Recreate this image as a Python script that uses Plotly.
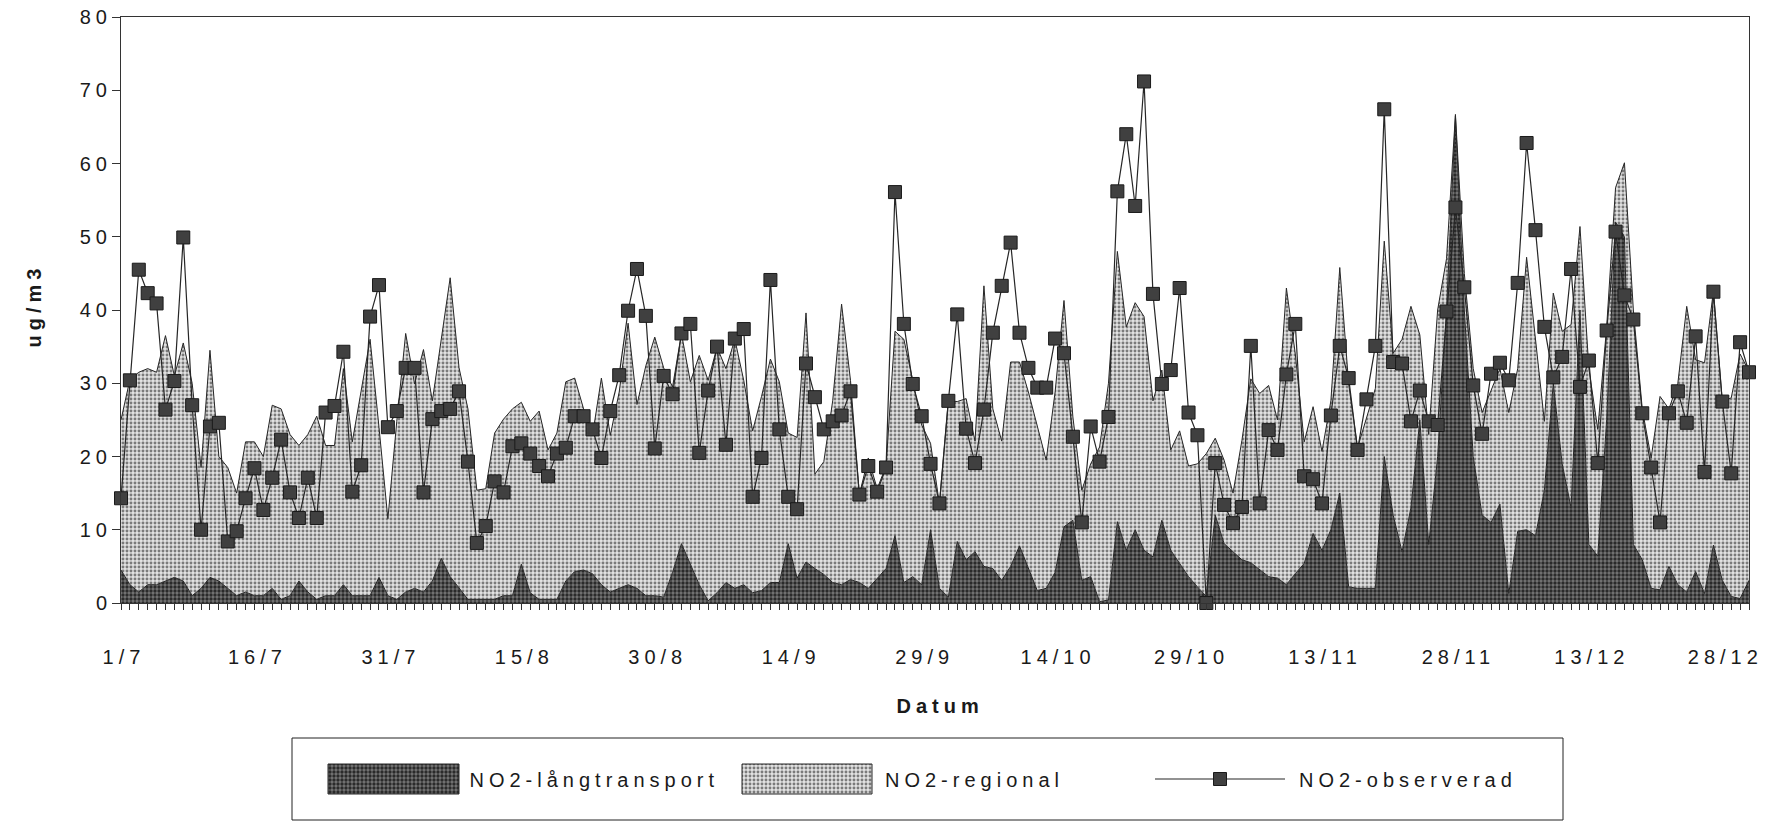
import plotly.graph_objects as go

W, H = 1776, 822

# Dagar från 1/7 (dag 0) till 31/12 (dag 183)
dagar = list(range(184))
tick_dagar = [0, 15, 30, 45, 60, 75, 90, 105, 120, 135, 150, 165, 180]
tick_text = ["1/7", "16/7", "31/7", "15/8", "30/8", "14/9", "29/9",
             "14/10", "29/10", "13/11", "28/11", "13/12", "28/12"]

# NO2-långtransport (ug/m3)
langtransport = [
    4.5, 2.5, 1.5, 2.5, 2.5, 3, 3.5, 3, 1, 2,
    3.5, 3, 2, 1, 1.5, 1, 1, 2, 0.5, 1,
    3, 1.5, 0.5, 1, 1, 2.5, 1, 1, 1, 3.5,
    1, 0.5, 1.5, 2, 1.5, 3, 6.1, 3.6, 2, 0.5,
    0.5, 0.5, 0.5, 1, 1, 5.3, 1.4, 0.5, 0.5, 0.5,
    3, 4.3, 4.5, 4, 2.5, 1.5, 2, 2.5, 2, 1,
    1, 0.8, 4.2, 8.1, 5.3, 2.5, 0.3, 1.4, 2.8, 2,
    2.5, 1.4, 1.7, 2.8, 2.8, 8.1, 3.4, 5.6, 4.7, 3.9,
    2.8, 2.5, 3.2, 2.8, 2, 3.4, 4.7, 9.2, 2.8, 3.6,
    2.5, 10, 2, 0.8, 8.4, 5.9, 7, 5, 4.7, 3.1,
    5, 7.8, 4.7, 1.7, 2, 4.2, 10.4, 11.3, 3.1, 3.6,
    0.2, 0.4, 11.1, 7.2, 10, 7.2, 6.3, 11.3, 7.2, 5.4,
    3.6, 2.2, 0.9, 12, 8.1, 7, 5.9, 5.5, 4.5, 3.6,
    3.4, 2.5, 4, 5.4, 9.5, 7.2, 10, 15, 2.2, 2,
    2, 2, 20, 12, 7, 13, 25, 8, 20, 40,
    66.5, 40, 20, 12, 11, 13.5, 1.3, 9.8, 10, 9.2,
    15.4, 30, 19, 13, 40, 8, 6.4, 25, 52, 50,
    8, 5.9, 2, 1.8, 5, 2.5, 1.5, 4.3, 1.3, 7.9,
    3.1, 0.9, 0.6, 3.1,
]

# NO2-regional (ug/m3), staplad ovanpå långtransporten
regional = [
    20.5, 28, 30, 29.5, 29, 33.5, 27.5, 32.5, 29, 16.5,
    31, 17, 16.5, 14, 20.5, 21, 19, 25, 26, 22,
    18.5, 21.5, 25, 20.5, 20.5, 29.5, 21, 28, 35, 20.5,
    10.5, 24.3, 35.3, 27.9, 33.1, 24.6, 29.9, 40.8, 30.1, 26,
    14.9, 15.1, 22.7, 24.1, 25.5, 22.1, 23.4, 25.7, 20.4, 22.7,
    27.2, 26.4, 22, 18.9, 28.2, 21.4, 26.8, 35.7, 25.1, 31.4,
    35.3, 31.3, 25.3, 28.7, 24.9, 31.3, 30.1, 33.5, 29.2, 34,
    27.9, 22.1, 26.5, 30.5, 27.4, 15.1, 19.2, 34, 12.9, 15.4,
    24.8, 38.3, 27.2, 12, 17.8, 12.2, 14, 27.9, 33.2, 26.8,
    21.8, 11.8, 11.5, 26.8, 19.1, 22, 15.1, 38.3, 21.8, 19,
    27.9, 25.1, 24.1, 22.6, 17.5, 24.6, 30.9, 14.1, 12.3, 15.4,
    21.1, 29.6, 36.9, 30.5, 31, 31.9, 21.3, 20.5, 13.7, 18.1,
    15.1, 16.8, 19.5, 10.5, 11.4, 8, 16.3, 25.1, 24.1, 26.1,
    21.6, 40.5, 30, 16.6, 17.3, 13.5, 17.6, 30.8, 27.7, 19.2,
    23.4, 27.3, 29.4, 22.1, 29, 27.5, 11.6, 15, 20, 7,
    0.2, 5, 12, 14, 18, 18.5, 24.7, 22.2, 37.2, 26.8,
    9.4, 12.3, 18.1, 25, 11.4, 24, 17.3, 12.7, 4.7, 10.1,
    32, 20.6, 17.8, 26.4, 21.5, 27.5, 39, 28.9, 31.5, 34.7,
    24.4, 27.1, 33.4, 28.5,
]

# NO2-observerad (ug/m3)
observerad = [
    14.3, 30.4, 45.5, 42.3, 40.9, 26.4, 30.3, 49.9, 27.0, 10.0,
    24.1, 24.6, 8.4, 9.8, 14.3, 18.4, 12.7, 17.1, 22.3, 15.1,
    11.6, 17.1, 11.6, 26.0, 26.9, 34.3, 15.2, 18.8, 39.1, 43.4,
    24.0, 26.2, 32.1, 32.1, 15.1, 25.1, 26.2, 26.5, 28.9, 19.3,
    8.2, 10.5, 16.6, 15.1, 21.4, 21.8, 20.4, 18.7, 17.3, 20.4,
    21.2, 25.5, 25.5, 23.7, 19.8, 26.2, 31.1, 39.9, 45.6, 39.2,
    21.1, 31.0, 28.5, 36.8, 38.1, 20.5, 29.0, 35.0, 21.6, 36.1,
    37.4, 14.5, 19.8, 44.1, 23.7, 14.5, 12.8, 32.7, 28.1, 23.7,
    24.8, 25.6, 28.9, 14.8, 18.7, 15.2, 18.5, 56.1, 38.1, 29.9,
    25.5, 19.0, 13.6, 27.6, 39.4, 23.8, 19.1, 26.4, 36.9, 43.3,
    49.2, 36.9, 32.1, 29.4, 29.4, 36.1, 34.1, 22.7, 11.0, 24.1,
    19.3, 25.4, 56.2, 64.0, 54.2, 71.2, 42.2, 29.9, 31.8, 43.0,
    26.0, 22.9, 0.0, 19.1, 13.4, 10.9, 13.1, 35.1, 13.6, 23.6,
    20.9, 31.2, 38.1, 17.3, 16.9, 13.6, 25.6, 35.1, 30.7, 20.9,
    27.8, 35.1, 67.4, 32.9, 32.7, 24.8, 29.0, 24.8, 24.3, 39.8,
    54.0, 43.1, 29.7, 23.1, 31.3, 32.8, 30.4, 43.7, 62.8, 50.9,
    37.7, 30.8, 33.6, 45.6, 29.5, 33.1, 19.1, 37.2, 50.7, 42.0,
    38.7, 25.9, 18.5, 11.0, 25.9, 28.9, 24.6, 36.4, 17.9, 42.5,
    27.5, 17.7, 35.6, 31.5,
]

FONT = "Liberation Sans, Arial, Helvetica, sans-serif"
TXT = "#1a1a1a"
EDGE = "#262626"
SPACING = 5  # extra teckenavstånd (px) i all text

dark_pattern = dict(shape=".", bgcolor="#767676", fgcolor="#2a2a2a",
                    size=4, solidity=0.55, fillmode="replace")
light_pattern = dict(shape=".", bgcolor="#e2e2e2", fgcolor="#7a7a7a",
                     size=4, solidity=0.42, fillmode="replace")
obs_marker = dict(symbol="square", size=13, color="#404040",
                  line=dict(color="#1a1a1a", width=1))

fig = go.Figure()

fig.add_trace(go.Scatter(
    x=dagar, y=langtransport, name="NO2-långtransport",
    mode="lines", stackgroup="no2",
    line=dict(color=EDGE, width=1),
    fillpattern=dark_pattern, showlegend=False,
))
fig.add_trace(go.Scatter(
    x=dagar, y=regional, name="NO2-regional",
    mode="lines", stackgroup="no2",
    line=dict(color=EDGE, width=1),
    fillpattern=light_pattern, showlegend=False,
))
fig.add_trace(go.Scatter(
    x=dagar, y=observerad, name="NO2-observerad",
    mode="lines+markers", cliponaxis=False,
    line=dict(color="#262626", width=1.2),
    marker=obs_marker, showlegend=False,
))

# Förklaringsruta ritad i en egen, dold axel under diagrammet
LX0, LX1, LY0, LY1 = 292, 1563, 738, 820
legend_axes = dict(xaxis="x2", yaxis="y2", showlegend=False, hoverinfo="skip")
sy0, sy1, sym = 764, 794, 779
for xa, xb, pat in [(328, 459, dark_pattern), (742, 872, light_pattern)]:
    fig.add_trace(go.Scatter(
        x=[xa, xb, xb, xa, xa], y=[sy0, sy0, sy1, sy1, sy0],
        mode="lines", fill="toself", fillpattern=pat,
        line=dict(color=EDGE, width=1), **legend_axes,
    ))
fig.add_trace(go.Scatter(
    x=[1155, 1285], y=[sym, sym], mode="lines",
    line=dict(color="#262626", width=1.2), **legend_axes,
))
fig.add_trace(go.Scatter(
    x=[1220], y=[sym], mode="markers", marker=obs_marker, **legend_axes,
))

# Texterna centreras utan teckenavstånd; förskjut så att vänsterkanten
# hamnar rätt när avståndet läggs på.
legend_texts = [(467, "NO2-långtransport"), (883, "NO2-regional"),
                (1297, "NO2-observerad")]
annotations = [
    dict(x=x + SPACING * len(t) / 2, y=sym + 1, xref="x2", yref="y2",
         text=t, showarrow=False, xanchor="left", yanchor="middle",
         font=dict(family=FONT, size=20, color=TXT))
    for x, t in legend_texts
]
annotations += [
    dict(x=940 / W, y=1 - 706 / H, xref="paper", yref="paper",
         text="<b>Datum</b>", showarrow=False, xanchor="center",
         yanchor="middle", font=dict(family=FONT, size=20, color=TXT)),
    dict(x=34 / W, y=1 - 306 / H, xref="paper", yref="paper",
         text="<b>ug/m3</b>", showarrow=False, textangle=-90,
         xanchor="center", yanchor="middle",
         font=dict(family=FONT, size=20, color=TXT)),
]

fig.update_layout(
    template="none",
    width=W, height=H,
    margin=dict(l=0, r=0, t=0, b=0, pad=0, autoexpand=False),
    paper_bgcolor="white", plot_bgcolor="white",
    font=dict(family=FONT, size=20, color=TXT),
    showlegend=False,
    xaxis=dict(
        domain=[121 / W, 1749 / W], range=[0, 183], automargin=False,
        tickmode="array", tickvals=tick_dagar, ticktext=tick_text,
        ticks="outside", ticklen=6, tickwidth=1, tickcolor="#333",
        ticklabelstandoff=30, ticklabelshift=3,
        minor=dict(tickmode="linear", tick0=0, dtick=1, ticks="outside",
                   ticklen=6, tickwidth=1, tickcolor="#333"),
        showline=True, linecolor="#333", linewidth=1, mirror=True,
        showgrid=False, zeroline=False,
        tickfont=dict(family=FONT, size=20, color=TXT),
    ),
    yaxis=dict(
        domain=[1 - 603 / H, 1 - 17 / H], range=[0, 80], automargin=False,
        tickmode="linear", tick0=0, dtick=10,
        ticks="outside", ticklen=8, tickwidth=1, tickcolor="#333",
        ticklabelstandoff=-4,
        showline=True, linecolor="#333", linewidth=1, mirror=True,
        showgrid=False, zeroline=False,
        tickfont=dict(family=FONT, size=20, color=TXT),
    ),
    xaxis2=dict(domain=[LX0 / W, LX1 / W], range=[LX0, LX1], visible=False,
                fixedrange=True, automargin=False),
    yaxis2=dict(domain=[1 - LY1 / H, 1 - LY0 / H], range=[LY1, LY0],
                visible=False, fixedrange=True, automargin=False),
    shapes=[dict(type="rect", xref="paper", yref="paper",
                 x0=LX0 / W, x1=LX1 / W, y0=1 - LY1 / H, y1=1 - LY0 / H,
                 line=dict(color="#222", width=1))],
    annotations=annotations,
)

# Spärrad text (extra teckenavstånd) för alla etiketter i diagrammet
spacing_css = (
    "var st=document.createElement('style');"
    "st.textContent='.main-svg text{letter-spacing:%dpx !important;}';"
    "document.head.appendChild(st);" % SPACING
)

fig.write_html("out.html", post_script=spacing_css,
               config={"displayModeBar": False})
